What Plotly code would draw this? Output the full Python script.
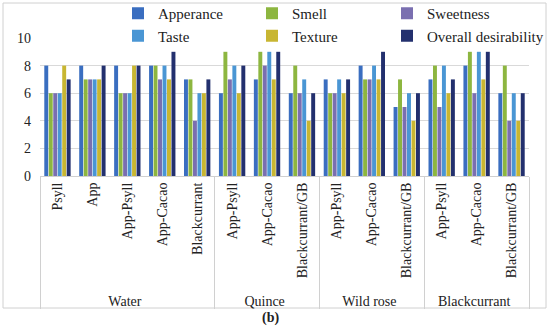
import plotly.graph_objects as go

groups = ["Water"] * 5 + ["Quince"] * 3 + ["Wild rose"] * 3 + ["Blackcurrant"] * 3
samples = ["Psyll", "App", "App-Psyll", "App-Cacao", "Blackcurrant",
           "App-Psyll", "App-Cacao", "Blackcurrant/GB",
           "App-Psyll", "App-Cacao", "Blackcurrant/GB",
           "App-Psyll", "App-Cacao", "Blackcurrant/GB"]

apperance = [8, 8, 8, 8, 7, 6, 7, 6, 7, 8, 5, 7, 8, 6]
smell     = [6, 7, 6, 8, 7, 9, 9, 8, 6, 7, 7, 8, 9, 8]
sweetness = [6, 7, 6, 7, 4, 7, 8, 6, 6, 7, 5, 5, 6, 4]
taste     = [6, 7, 6, 8, 6, 8, 9, 7, 7, 8, 6, 8, 9, 6]
texture   = [8, 7, 8, 7, 6, 6, 7, 4, 6, 7, 4, 6, 7, 4]
overall   = [7, 8, 8, 9, 7, 8, 9, 6, 7, 9, 6, 7, 9, 6]

series = [
    ("Apperance", apperance, "#3A6EC0", "legend"),
    ("Smell", smell, "#8DB640", "legend2"),
    ("Sweetness", sweetness, "#7A6FB0", "legend3"),
    ("Taste", taste, "#4A96D4", "legend"),
    ("Texture", texture, "#C8B632", "legend2"),
    ("Overall desirability", overall, "#23306E", "legend3"),
]

FONT = "Liberation Serif"

fig = go.Figure()
for name, vals, col, lg in series:
    fig.add_trace(go.Bar(x=[groups, samples], y=vals, name=name, legend=lg,
                         marker=dict(color=col, line=dict(width=0))))

W, H = 550, 329
L, R, T, B = 40, 21, 38, 153
pw, ph = W - L - R, H - T - B

def px_x(p):
    return (p - L) / pw

def px_y(p):
    return (H - B - p) / ph

def leg(xpx):
    return dict(orientation="v", x=px_x(xpx), y=px_y(-3), xanchor="left", yanchor="top",
                font=dict(family=FONT, size=15, color="#222222"),
                bgcolor="rgba(0,0,0,0)", tracegroupgap=0, itemwidth=30,
                traceorder="normal")

fig.update_layout(
    width=W, height=H,
    margin=dict(l=L, r=R, t=T, b=B, autoexpand=False),
    paper_bgcolor="white", plot_bgcolor="white",
    font=dict(family=FONT, size=14, color="#222222"),
    barmode="group", bargap=0.23, bargroupgap=0.12,
    showlegend=True,
    legend=leg(118), legend2=leg(252), legend3=leg(387),
    xaxis=dict(type="multicategory", tickangle=-90, showgrid=False, automargin=False,
               showline=True, linecolor="#d0d0d0", linewidth=1,
               showdividers=True, dividercolor="#d0d0d0", dividerwidth=1,
               tickfont=dict(family=FONT, size=14, color="#222222"),
               ticks=""),
    yaxis=dict(range=[0, 10], dtick=2, showgrid=True, gridcolor="#d9d9d9",
               gridwidth=1, zeroline=False, showline=False, ticks="", automargin=False,
               ticklabelstandoff=8,
               tickfont=dict(family=FONT, size=14, color="#222222")),
    shapes=[dict(type="rect", xref="paper", yref="paper",
                 x0=px_x(3), x1=px_x(546), y0=px_y(308), y1=px_y(3),
                 line=dict(color="#d0d0d0", width=1), fillcolor="rgba(0,0,0,0)",
                 layer="below")],
    annotations=[dict(text="<b>(b)</b>", xref="paper", yref="paper",
                      x=px_x(270), y=px_y(318), xanchor="center", yanchor="middle",
                      showarrow=False,
                      font=dict(family=FONT, size=14, color="#222222"))],
)

fig.write_html("out.html", config={"displayModeBar": False},
               post_script="document.body.style.margin='0';document.body.style.padding='0';")
